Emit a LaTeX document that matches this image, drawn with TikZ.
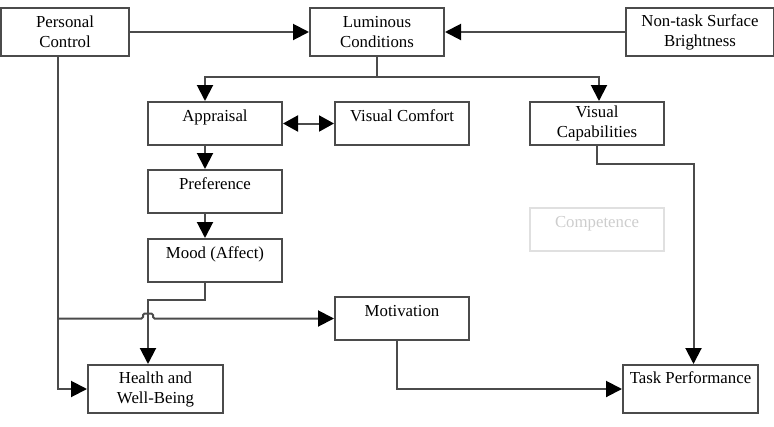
\documentclass[tikz,border=0pt]{standalone}
\usepackage{fontspec}
\setmainfont{Liberation Serif}
\usetikzlibrary{arrows.meta, positioning, calc}
\definecolor{linegray}{RGB}{75,75,75}
\definecolor{fadeline}{RGB}{224,224,224}
\definecolor{fadetext}{RGB}{205,205,205}

\begin{document}
\begin{tikzpicture}[
  x=1pt, y=-1pt,
  every node/.style={font=\fontsize{16.8}{20}\selectfont},
  box/.style={rectangle, draw=linegray, line width=2pt, minimum width=134pt,
              minimum height=48pt, align=center, inner sep=2pt},
  flatbox/.style={box, minimum height=43pt, inner ysep=6pt, text height=13pt, text depth=18pt},
  arr/.style={-{Triangle[length=16pt, width=16pt, color=black]}, draw=linegray, line width=2pt},
  dblarr/.style={arr, {Triangle[length=15pt, width=16pt, color=black]}-{Triangle[length=15pt, width=16pt, color=black]}},
  link/.style={draw=linegray, line width=2pt},
]
  \useasboundingbox (0,0) rectangle (774,426);

  \node[box, minimum width=128pt] (pc) at (65,32) {Personal\\Control};
  \node[box, right=179pt of pc] (lum) {Luminous\\Conditions};
  \node[box, minimum width=148pt, right=180pt of lum] (nts) {Non-task Surface\\Brightness};

  \node[flatbox, below right=44pt and 17pt of pc] (app) {Appraisal};
  \node[flatbox, right=51pt of app] (vcomf) {Visual Comfort};
  \node[box, minimum height=43pt, right=59pt of vcomf] (vcap) {Visual\\Capabilities};
  \node[flatbox, below=23pt of app] (pref) {Preference};
  \node[flatbox, below=24pt of pref] (mood) {Mood (Affect)};
  \node[flatbox, draw=fadeline, text=fadetext, below=61pt of vcap] (comp) {Competence};
  \node[flatbox, minimum height=42pt, below=150pt of vcomf] (mot) {Motivation};
  \node[box, minimum width=135pt] (hwb) at (155.5,389) {Health and\\Well-Being};
  \node[flatbox, minimum width=135pt, inner ysep=5pt, text depth=25pt] (tp) at (690.5,389) {Task Performance};

  % axes of the vertical runs
  \coordinate (laxis) at (205,0);
  \coordinate (paxis) at (58,0);
  \coordinate (haxis) at (148,0);
  \coordinate (split) at ($(lum.south)+(0,20)$);

  % Arrows
  \draw[arr]    (pc.east)  -- (lum.west);
  \draw[arr]    (nts.west) -- (lum.east);
  \draw[link]   (lum.south) -- (split);
  \draw[arr]    (split) -| (app.north -| laxis);
  \draw[arr]    (split) -| ($(vcap.north)+(2,0)$);
  \draw[dblarr] (app.east) -- (vcomf.west);
  \draw[arr]    (app.south -| laxis)  -- (pref.north -| laxis);
  \draw[arr]    (pref.south -| laxis) -- (mood.north -| laxis);
  \draw[arr]    (mood.south -| laxis) -- ++(0,17) -| (hwb.north -| haxis);
  \draw[arr]    (pc.south -| paxis) |- (hwb.west);
  \draw[arr, rounded corners=1.5pt] (paxis |- mot.west) -- ($(haxis |- mot.west)+(-5,0)$)
        -- ++(0,-5) -- ++(10,0) -- ++(0,5) -- (mot.west);
  \draw[arr]    ($(mot.south)+(-5,0)$) |- (tp.west);
  \draw[arr]    (vcap.south) -- ++(0,18) -| ($(tp.north)+(3,0)$);
\end{tikzpicture}
\end{document}
